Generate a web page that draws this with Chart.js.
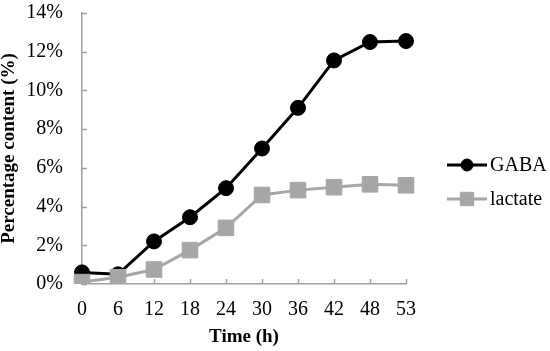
<!DOCTYPE html>
<html>
<head>
<meta charset="utf-8">
<script src="https://cdn.jsdelivr.net/npm/chart.js@4"></script>
<style>
  html, body { margin: 0; padding: 0; background: #fff; }
  #wrap { width: 550px; height: 351px; position: relative; }
</style>
</head>
<body>
<div id="wrap"><canvas id="chart"></canvas></div>
<script>
// data
const hours = ['0', '6', '12', '18', '24', '30', '36', '42', '48', '53'];
const gaba = [0.6, 0.5, 2.2, 3.45, 4.95, 7.0, 9.1, 11.55, 12.5, 12.55];
const lactate = [0.1, 0.35, 0.75, 1.75, 2.9, 4.6, 4.85, 5.0, 5.15, 5.1];
const seriesNames = ['GABA', 'lactate'];

const FONT = "'Liberation Serif', 'Times New Roman', serif";
const GRAY = '#a6a6a6';
const AXIS = '#a0a0a0';

// small inward tick marks like the original
const innerTicks = {
    id: 'innerTicks',
    beforeDatasetsDraw(chart) {
        const ctx = chart.ctx;
        const x = chart.scales.x, y = chart.scales.y;
        ctx.save();
        ctx.strokeStyle = AXIS;
        ctx.lineWidth = 1.5;
        ctx.beginPath();
        y.ticks.forEach((t, i) => {
            const py = Math.round(y.getPixelForTick(i)) + 0.5;
            ctx.moveTo(x.left, py);
            ctx.lineTo(x.left + 5, py);
        });
        x.ticks.forEach((t, i) => {
            const px = Math.round(x.getPixelForTick(i)) + 0.5;
            ctx.moveTo(px, y.bottom);
            ctx.lineTo(px, y.bottom - 5);
        });
        ctx.stroke();
        ctx.restore();
    }
};

// legend on the right: line sample + marker + name
const sideLegend = {
    id: 'sideLegend',
    afterDraw(chart) {
        const ctx = chart.ctx;
        const area = chart.chartArea;
        const x0 = area.right + 41;
        const rows = [area.top + 152, area.top + 186];
        ctx.save();
        chart.data.datasets.forEach((ds, i) => {
            const yy = rows[i];
            ctx.strokeStyle = ds.borderColor;
            ctx.lineWidth = 3;
            ctx.beginPath();
            ctx.moveTo(x0, yy);
            ctx.lineTo(x0 + 40, yy);
            ctx.stroke();
            ctx.fillStyle = ds.backgroundColor;
            ctx.lineWidth = 1;
            Chart.helpers.drawPoint(ctx, {
                pointStyle: ds.pointStyle,
                radius: ds.pointStyle === 'circle' ? 6 : 9.5,
                borderWidth: 1
            }, x0 + 20, yy);
            ctx.fillStyle = '#000';
            ctx.font = '20px ' + FONT;
            ctx.textBaseline = 'middle';
            ctx.textAlign = 'left';
            ctx.fillText(ds.label, x0 + 43, yy + 1);
        });
        ctx.restore();
    }
};

new Chart(document.getElementById('chart'), {
    type: 'line',
    data: {
        labels: hours,
        datasets: [{
            label: seriesNames[0],
            data: gaba,
            borderColor: '#000',
            backgroundColor: '#000',
            borderWidth: 3,
            pointStyle: 'circle',
            pointRadius: 7.5,
            pointBorderWidth: 1,
            order: 1
        }, {
            label: seriesNames[1],
            data: lactate,
            borderColor: GRAY,
            backgroundColor: GRAY,
            borderWidth: 3,
            pointStyle: 'rect',
            pointRadius: 11,
            pointBorderWidth: 1,
            order: 0
        }]
    },
    options: {
        responsive: true,
        maintainAspectRatio: false,
        animation: false,
        layout: { autoPadding: false, padding: { top: 13, right: 144, left: 0, bottom: 0 } },
        plugins: {
            legend: { display: false },
            tooltip: { enabled: false }
        },
        scales: {
            x: {
                offset: false,
                grid: { display: false, drawTicks: false },
                border: { color: AXIS, width: 1.5 },
                ticks: { color: '#000', font: { family: FONT, size: 20 }, padding: 14, maxRotation: 0, autoSkip: false },
                title: { display: true, text: 'Time (h)', color: '#000', font: { family: FONT, size: 19, weight: 'bold', lineHeight: 1.2 }, padding: { top: 0, bottom: 3 } },
                afterFit(scale) { scale.height = 67; }
            },
            y: {
                min: 0,
                max: 14,
                grid: { display: false, drawTicks: false },
                border: { color: AXIS, width: 1.5 },
                ticks: { stepSize: 2, color: '#000', font: { family: FONT, size: 20 }, padding: 19, callback: v => v + '%' },
                title: { display: true, text: 'Percentage content (%)', color: '#000', font: { family: FONT, size: 19, weight: 'bold', lineHeight: 1 }, padding: { top: 0, bottom: 0 } },
                afterFit(scale) {
                    scale.width = 82;
                    scale.paddingTop = 13;
                    scale.paddingBottom = 0;
                }
            }
        }
    },
    plugins: [innerTicks, sideLegend]
});
</script>
</body>
</html>
